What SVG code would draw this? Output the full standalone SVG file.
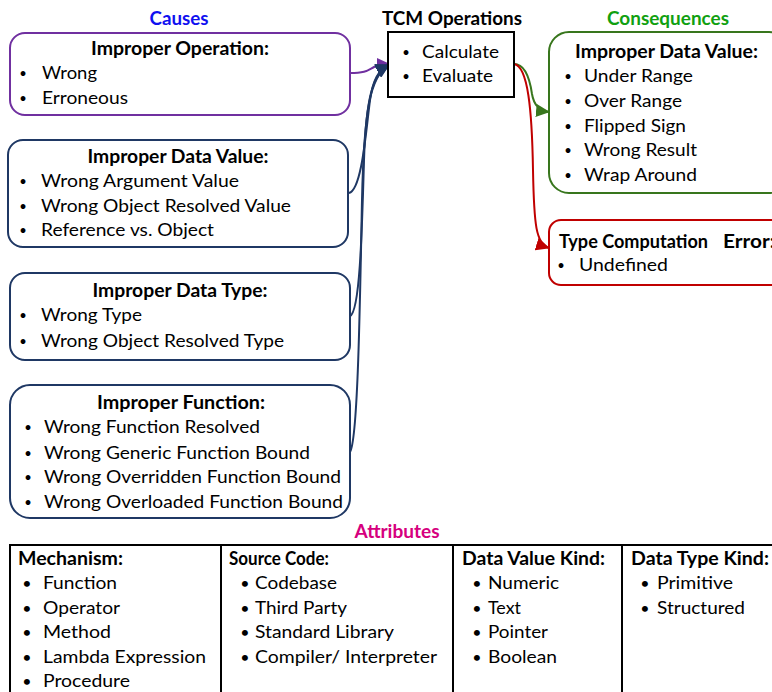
<svg xmlns="http://www.w3.org/2000/svg" width="772" height="692" viewBox="0 0 772 692">
<style>
text{font-family:Lato,"Open Sans","Liberation Sans",sans-serif;font-size:18px;fill:#000}
.b{font-weight:bold}
.bl{text-anchor:middle;font-size:13px}
.tbl{text-anchor:middle;font-size:16px}
.t{text-anchor:middle}
.box{fill:#fff;stroke-width:2}
.conn{fill:none;stroke-width:2}
</style>
<defs>
<marker id="aP" markerUnits="userSpaceOnUse" markerWidth="13" markerHeight="12" refX="12" refY="6" orient="auto"><path d="M0,0 L13,6 L0,12 z" fill="#7030A0"/></marker>
<marker id="aN" markerUnits="userSpaceOnUse" markerWidth="14" markerHeight="14" refX="13" refY="7" orient="auto"><path d="M0,0 L14,7 L0,14 z" fill="#1F3864"/></marker>
<marker id="aG" markerUnits="userSpaceOnUse" markerWidth="14" markerHeight="13" refX="13" refY="6.5" orient="auto"><path d="M0,0 L14,6.5 L0,13 z" fill="#38761D"/></marker>
<marker id="aR" markerUnits="userSpaceOnUse" markerWidth="14" markerHeight="13" refX="13" refY="6.5" orient="auto"><path d="M0,0 L14,6.5 L0,13 z" fill="#C00000"/></marker>
</defs>
<rect width="772" height="692" fill="#fff"/>

<text class="b t" x="179" y="25" style="fill:#1010F0" textLength="59" lengthAdjust="spacingAndGlyphs">Causes</text>
<text class="b t" x="452" y="25" textLength="140" lengthAdjust="spacingAndGlyphs">TCM Operations</text>
<text class="b t" x="668" y="25" style="fill:#11A011" textLength="122" lengthAdjust="spacingAndGlyphs">Consequences</text>
<text class="b t" x="397" y="538" style="fill:#D6007E" textLength="85" lengthAdjust="spacingAndGlyphs">Attributes</text>

<g id="connectors">
<path class="conn" stroke="#7030A0" d="M350,73 C366,73 368,70 374,67 C378,65 382,64 389,64" marker-end="url(#aP)"/>
<path class="conn" stroke="#1F3864" d="M349,193 C362,190 366,130 370,100 C373,80 378,70 389,65" marker-end="url(#aN)"/>
<path class="conn" stroke="#1F3864" d="M350,316 C360,312 362,230 364,160 C366,100 372,74 389,65" marker-end="url(#aN)"/>
<path class="conn" stroke="#1F3864" d="M350,452 C358,440 360,300 362,200 C364,110 370,76 389,65" marker-end="url(#aN)"/>
<path class="conn" stroke="#38761D" d="M514,64 C526,64 530,80 532,94 C534,106 540,111 549,112" marker-end="url(#aG)"/>
<path class="conn" stroke="#C00000" d="M514,64 C528,66 532,110 533,170 C534,225 536,244 549,248" marker-end="url(#aR)"/>
</g>

<g id="improper-operation">
<rect class="box" x="10" y="33" width="340" height="82" rx="15" stroke="#7030A0"/>
<text class="b t" x="180" y="55" textLength="178" lengthAdjust="spacingAndGlyphs">Improper Operation:</text>
<text class="bl" x="23" y="78">•</text><text x="42" y="79" textLength="55" lengthAdjust="spacingAndGlyphs">Wrong</text>
<text class="bl" x="23" y="103">•</text><text x="42" y="104" textLength="86" lengthAdjust="spacingAndGlyphs">Erroneous</text>
</g>

<g id="improper-data-value-cause">
<rect class="box" x="8" y="140" width="340" height="107" rx="15" stroke="#1F3864"/>
<text class="b t" x="178" y="163" textLength="181" lengthAdjust="spacingAndGlyphs">Improper Data Value:</text>
<text class="bl" x="23" y="186">•</text><text x="41" y="187" textLength="198" lengthAdjust="spacingAndGlyphs">Wrong Argument Value</text>
<text class="bl" x="23" y="211">•</text><text x="41" y="212" textLength="250" lengthAdjust="spacingAndGlyphs">Wrong Object Resolved Value</text>
<text class="bl" x="23" y="235">•</text><text x="41" y="236" textLength="173" lengthAdjust="spacingAndGlyphs">Reference vs. Object</text>
</g>

<g id="improper-data-type">
<rect class="box" x="10" y="273" width="340" height="87" rx="15" stroke="#1F3864"/>
<text class="b t" x="180" y="297" textLength="175" lengthAdjust="spacingAndGlyphs">Improper Data Type:</text>
<text class="bl" x="23" y="320">•</text><text x="41" y="321" textLength="101" lengthAdjust="spacingAndGlyphs">Wrong Type</text>
<text class="bl" x="23" y="346">•</text><text x="41" y="347" textLength="243" lengthAdjust="spacingAndGlyphs">Wrong Object Resolved Type</text>
</g>

<g id="improper-function">
<rect class="box" x="10" y="385" width="340" height="133" rx="20" stroke="#1F3864"/>
<text class="b t" x="181" y="409" textLength="168" lengthAdjust="spacingAndGlyphs">Improper Function:</text>
<text class="bl" x="28" y="432">•</text><text x="44" y="433" textLength="216" lengthAdjust="spacingAndGlyphs">Wrong Function Resolved</text>
<text class="bl" x="28" y="458">•</text><text x="44" y="459" textLength="266" lengthAdjust="spacingAndGlyphs">Wrong Generic Function Bound</text>
<text class="bl" x="28" y="482">•</text><text x="44" y="483" textLength="297" lengthAdjust="spacingAndGlyphs">Wrong Overridden Function Bound</text>
<text class="bl" x="28" y="507">•</text><text x="44" y="508" textLength="299" lengthAdjust="spacingAndGlyphs">Wrong Overloaded Function Bound</text>
</g>

<g id="tcm-operations">
<rect x="388" y="32" width="126" height="65" fill="#fff" stroke="#000" stroke-width="2"/>
<text class="bl" x="406" y="57">•</text><text x="422" y="58" textLength="77" lengthAdjust="spacingAndGlyphs">Calculate</text>
<text class="bl" x="406" y="81">•</text><text x="422" y="82" textLength="71" lengthAdjust="spacingAndGlyphs">Evaluate</text>
</g>

<g id="improper-data-value-consequence">
<rect class="box" x="549" y="32" width="240" height="161" rx="20" stroke="#38761D"/>
<text class="b" x="575" y="58" textLength="183" lengthAdjust="spacingAndGlyphs">Improper Data Value:</text>
<text class="bl" x="568" y="81">•</text><text x="584" y="82" textLength="109" lengthAdjust="spacingAndGlyphs">Under Range</text>
<text class="bl" x="568" y="106">•</text><text x="584" y="107" textLength="98" lengthAdjust="spacingAndGlyphs">Over Range</text>
<text class="bl" x="568" y="131">•</text><text x="584" y="132" textLength="102" lengthAdjust="spacingAndGlyphs">Flipped Sign</text>
<text class="bl" x="568" y="155">•</text><text x="584" y="156" textLength="113" lengthAdjust="spacingAndGlyphs">Wrong Result</text>
<text class="bl" x="568" y="180">•</text><text x="584" y="181" textLength="113" lengthAdjust="spacingAndGlyphs">Wrap Around</text>
</g>

<g id="type-computation-error">
<rect class="box" x="549" y="220" width="260" height="65" rx="12" stroke="#C00000"/>
<text class="b" x="559" y="248" textLength="149" lengthAdjust="spacingAndGlyphs">Type Computation</text>
<text class="b" x="723" y="248" textLength="52" lengthAdjust="spacingAndGlyphs">Error:</text>
<text class="bl" x="561" y="270">•</text><text x="579" y="271" textLength="89" lengthAdjust="spacingAndGlyphs">Undefined</text>
</g>

<g id="attributes-table">
<rect x="10" y="545" width="790" height="170" fill="none" stroke="#000" stroke-width="2"/>
<line x1="221" y1="545" x2="221" y2="692" stroke="#000" stroke-width="2"/>
<line x1="453" y1="545" x2="453" y2="692" stroke="#000" stroke-width="2"/>
<line x1="622" y1="545" x2="622" y2="692" stroke="#000" stroke-width="2"/>
<text class="b" x="18" y="565" textLength="105" lengthAdjust="spacingAndGlyphs">Mechanism:</text>
<text class="tbl" x="27" y="589">•</text><text x="43" y="589" textLength="74" lengthAdjust="spacingAndGlyphs">Function</text>
<text class="tbl" x="27" y="614">•</text><text x="43" y="614" textLength="77" lengthAdjust="spacingAndGlyphs">Operator</text>
<text class="tbl" x="27" y="638">•</text><text x="43" y="638" textLength="68" lengthAdjust="spacingAndGlyphs">Method</text>
<text class="tbl" x="27" y="663">•</text><text x="43" y="663" textLength="163" lengthAdjust="spacingAndGlyphs">Lambda Expression</text>
<text class="tbl" x="27" y="687">•</text><text x="43" y="687" textLength="87" lengthAdjust="spacingAndGlyphs">Procedure</text>

<text class="b" x="229" y="565" textLength="100" lengthAdjust="spacingAndGlyphs">Source Code:</text>
<text class="tbl" x="245" y="589">•</text><text x="255" y="589" textLength="82" lengthAdjust="spacingAndGlyphs">Codebase</text>
<text class="tbl" x="245" y="614">•</text><text x="255" y="614" textLength="92" lengthAdjust="spacingAndGlyphs">Third Party</text>
<text class="tbl" x="245" y="638">•</text><text x="255" y="638" textLength="139" lengthAdjust="spacingAndGlyphs">Standard Library</text>
<text class="tbl" x="245" y="663">•</text><text x="255" y="663" textLength="182" lengthAdjust="spacingAndGlyphs">Compiler/ Interpreter</text>

<text class="b" x="462" y="565" textLength="143" lengthAdjust="spacingAndGlyphs">Data Value Kind:</text>
<text class="tbl" x="477" y="589">•</text><text x="488" y="589" textLength="71" lengthAdjust="spacingAndGlyphs">Numeric</text>
<text class="tbl" x="477" y="614">•</text><text x="488" y="614" textLength="33" lengthAdjust="spacingAndGlyphs">Text</text>
<text class="tbl" x="477" y="638">•</text><text x="488" y="638" textLength="60" lengthAdjust="spacingAndGlyphs">Pointer</text>
<text class="tbl" x="477" y="663">•</text><text x="488" y="663" textLength="69" lengthAdjust="spacingAndGlyphs">Boolean</text>

<text class="b" x="631" y="565" textLength="138" lengthAdjust="spacingAndGlyphs">Data Type Kind:</text>
<text class="tbl" x="645" y="589">•</text><text x="657" y="589" textLength="76" lengthAdjust="spacingAndGlyphs">Primitive</text>
<text class="tbl" x="645" y="614">•</text><text x="657" y="614" textLength="88" lengthAdjust="spacingAndGlyphs">Structured</text>
</g>
</svg>
